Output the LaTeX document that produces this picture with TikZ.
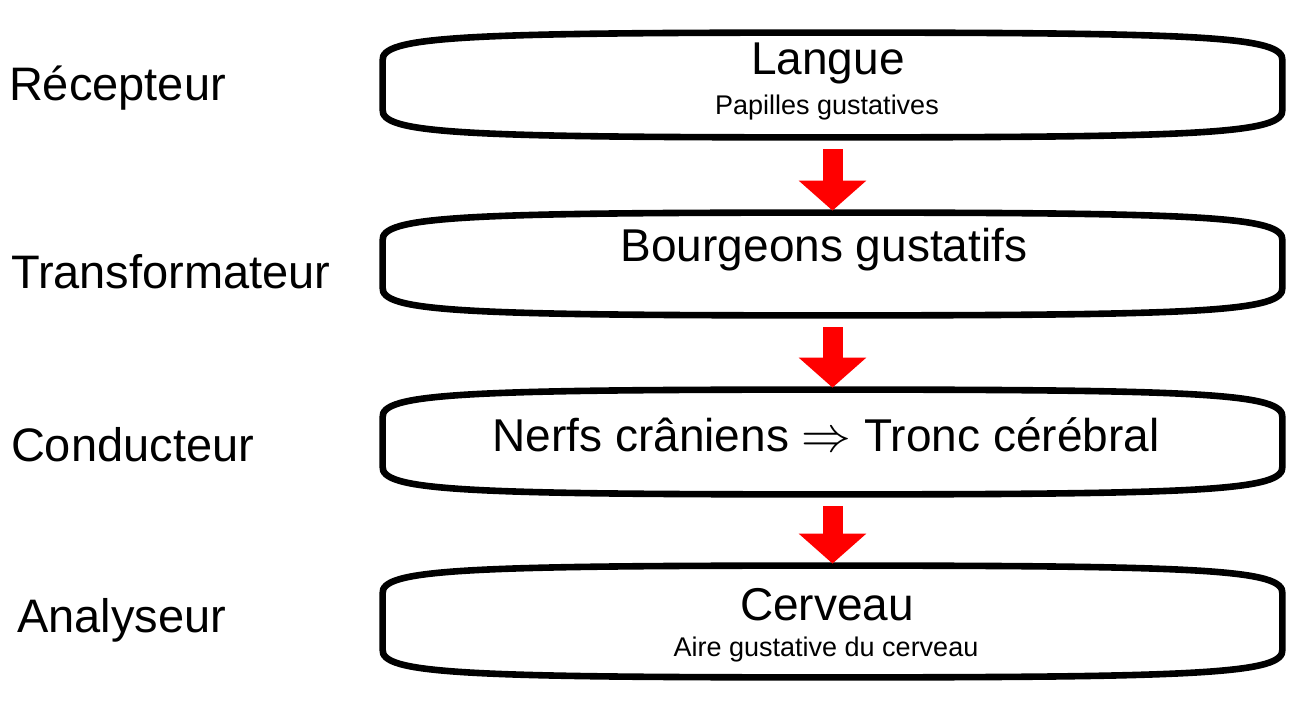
\documentclass[tikz,border=0pt]{standalone}
\usepackage{fontspec}
\setmainfont{Liberation Sans}
\usetikzlibrary{arrows.meta,calc}
\tikzset{
    stage-box/.style = {draw=none, inner sep=0pt, minimum width=451.5pt},
    stage-line/.style = {line width=3.3pt, black},
    stage-title/.style = {font=\fontsize{23}{27}\selectfont},
    stage-sub/.style = {font=\fontsize{13.5}{16}\selectfont},
    stage-label/.style = {anchor=west, font=\fontsize{23.5}{28}\selectfont},
    flow-arrow/.style = {red, line width=10pt, -{Triangle[width=33pt,length=15pt]}, shorten <=6pt, shorten >=1pt},
}
% outline of a box: bulging top and bottom edges
\newcommand{\stageoutline}[1]{%
  \draw[stage-line] let \p1=(#1.north west), \p2=(#1.south east), \n1={0.5*(\x1+\x2)} in
    (\x1+1pt,\y1-14pt) .. controls (\x1,\y1-2pt) and (\x1+40pt,\y1) .. (\n1,\y1)
    .. controls (\x2-40pt,\y1) and (\x2,\y1-2pt) .. (\x2-1pt,\y1-14pt)
    -- (\x2-1pt,\y2+14pt) .. controls (\x2,\y2+2pt) and (\x2-40pt,\y2) .. (\n1,\y2)
    .. controls (\x1+40pt,\y2) and (\x1,\y2+2pt) .. (\x1+1pt,\y2+14pt) -- cycle;}
\begin{document}
\begin{tikzpicture}[x=0.5pt,y=-0.5pt]
\useasboundingbox (0,0) rectangle (1307,705);
\node[stage-box, minimum height=52pt] (recep) at (832.5,85) {};
\node[stage-box, minimum height=51pt] (trans) at (832.5,264) {};
\node[stage-box, minimum height=52pt] (cond) at (832.5,442) {};
\node[stage-box, minimum height=55.5pt] (analy) at (832.5,621.5) {};
\stageoutline{recep}
\stageoutline{trans}
\stageoutline{cond}
\stageoutline{analy}
\node[stage-title] (langue) at (828,63) {Langue};
\node[stage-sub] (papilles) at (827,108) {Papilles gustatives};
\node[stage-title] (bourgeons) at (824,250) {Bourgeons gustatifs};
\node[stage-title] (nerfs) at (826,435) {Nerfs crâniens $\Rightarrow$ Tronc cérébral};
\node[stage-title] (cerveau) at (827,605) {Cerveau};
\node[stage-sub] (aire) at (826,650) {Aire gustative du cerveau};
\node[stage-label] (lrecep) at (2,88) {Récepteur};
\node[stage-label] (ltrans) at (4,272) {Transformateur};
\node[stage-label] (lcond) at (4,445) {Conducteur};
\node[stage-label] (lanaly) at (10,620) {Analyseur};
\draw[flow-arrow] (recep.south) -- (trans.north);
\draw[flow-arrow] (trans.south) -- (cond.north);
\draw[flow-arrow] (cond.south) -- (analy.north);
\end{tikzpicture}
\end{document}
